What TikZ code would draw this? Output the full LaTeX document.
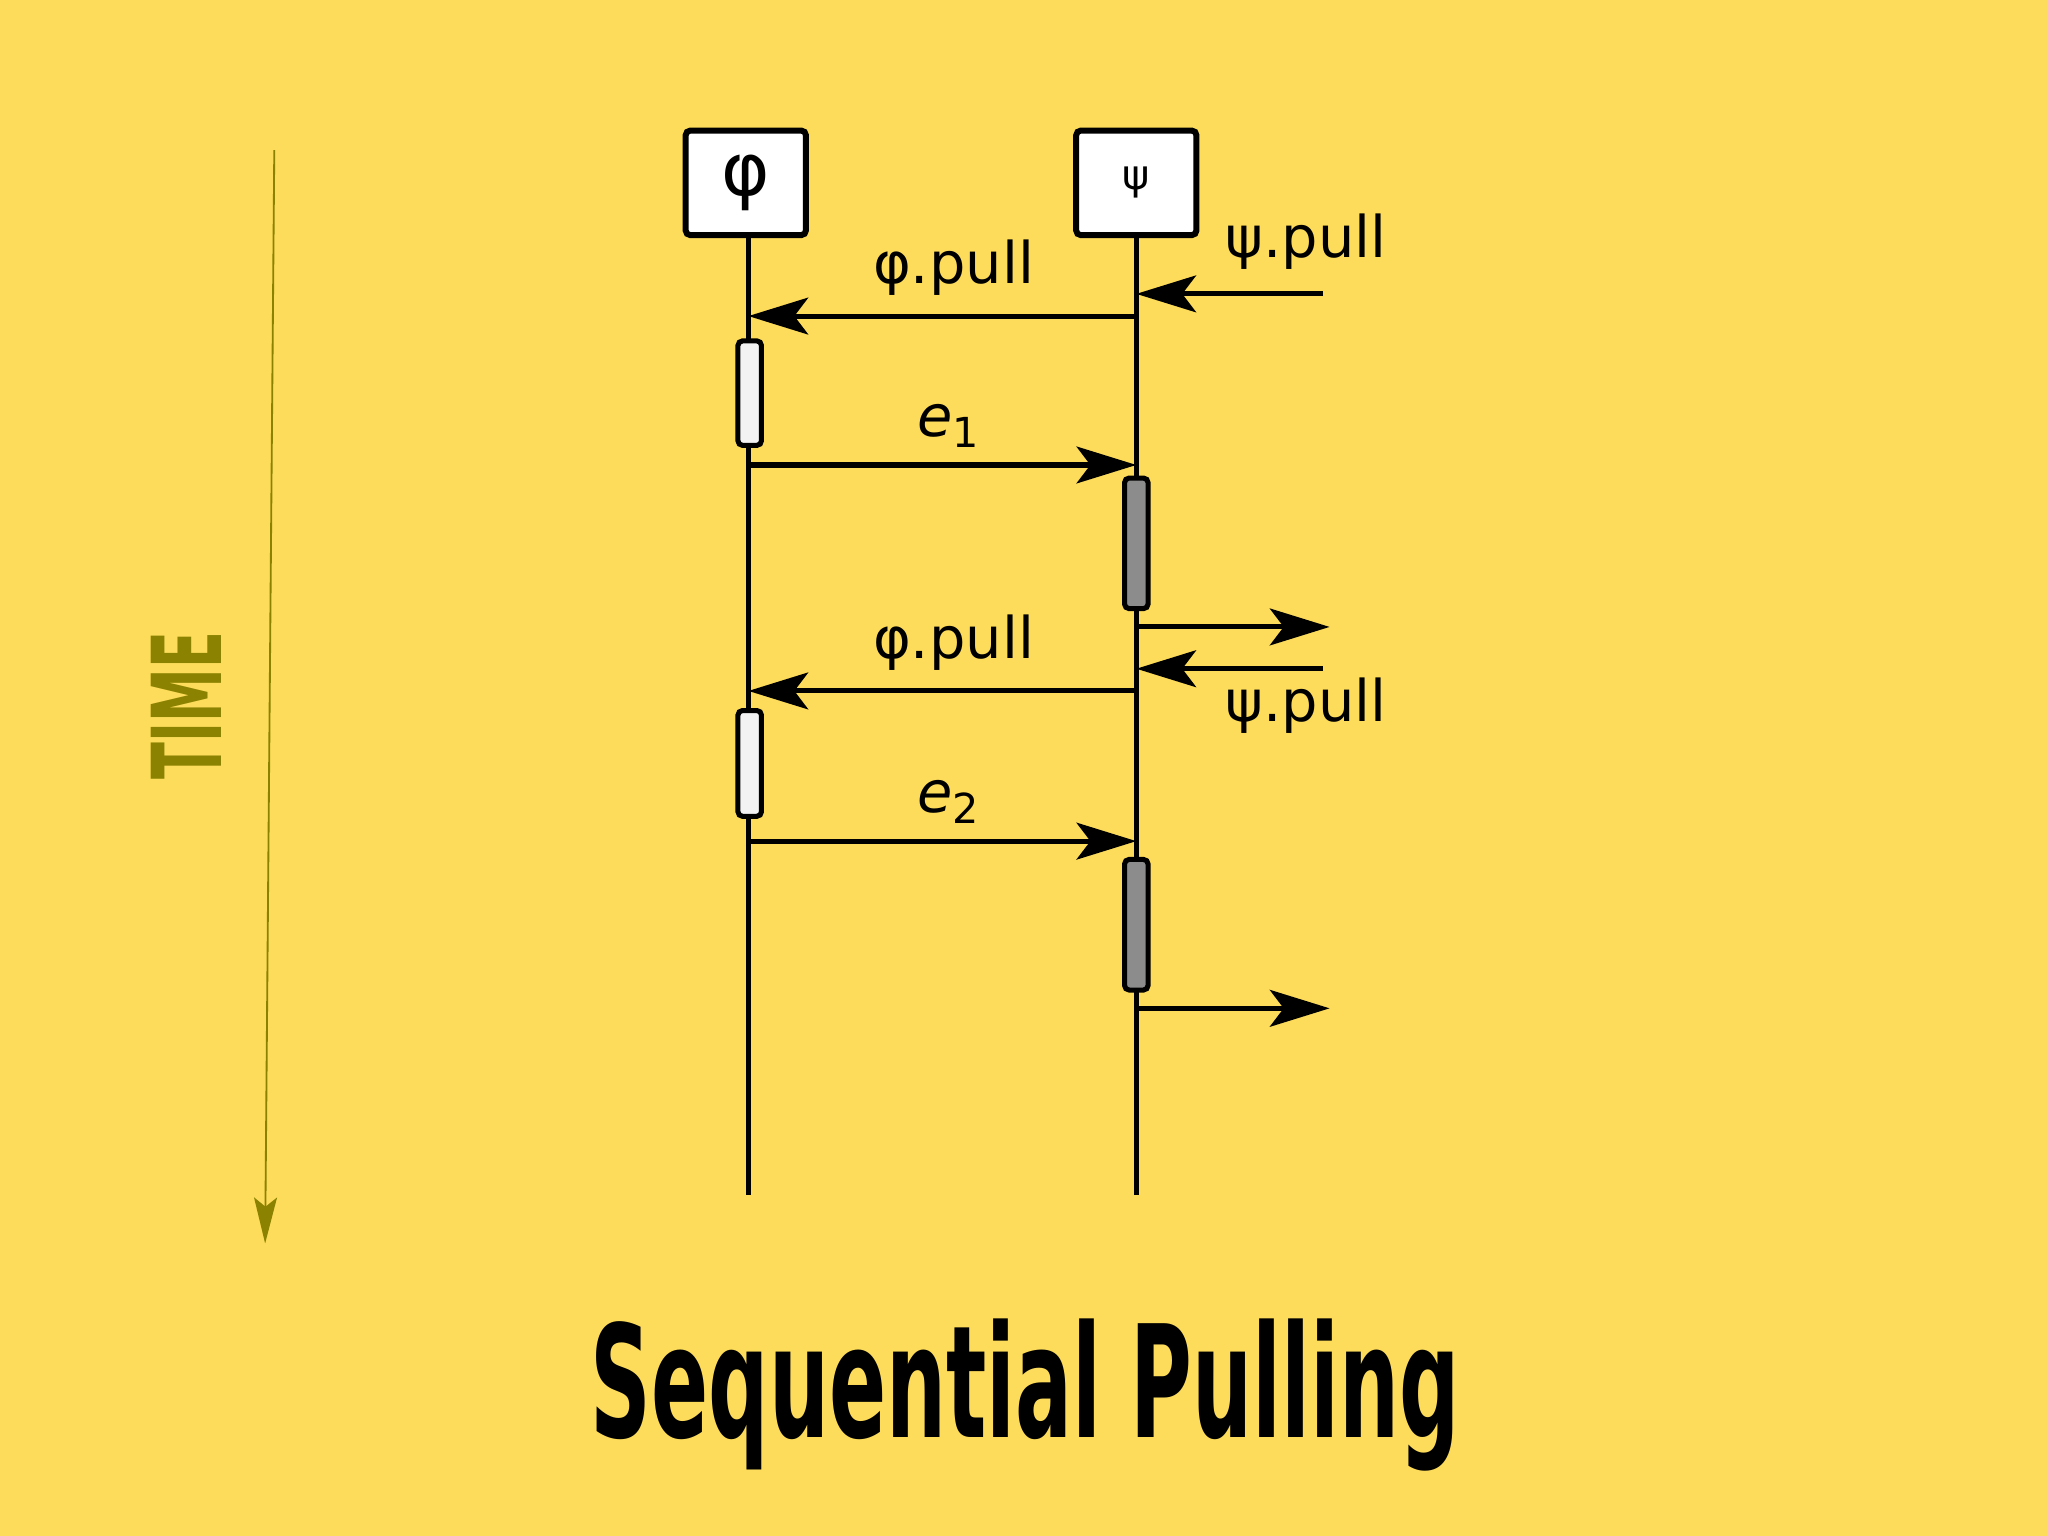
\documentclass[tikz,border=0pt]{standalone}
\usepackage{fontspec}
\setmainfont{DejaVu Sans}
\usetikzlibrary{arrows.meta, positioning}
\definecolor{bgyellow}{HTML}{FDDC5B}
\definecolor{olive}{HTML}{8A8200}
\definecolor{actgrey}{HTML}{8C8C8C}
\begin{document}
\begin{tikzpicture}[x = 0.01cm, y = -0.01cm, > = {Stealth[length = 13pt, width = 8pt, inset = 3pt]},
	msg/.style = {->, line width = 1.1pt},
	lifebox/.style = {draw, line width = 1.3pt, fill = white, rounded corners = 1pt, minimum width = 0.92cm, minimum height = 0.8cm, inner sep = 0pt},
	actwhite/.style = {draw, line width = 1.1pt, fill = white!90!gray, rounded corners = 1pt},
	actgray/.style = {draw, line width = 1.1pt, fill = actgrey, rounded corners = 1pt},
	lbl/.style = {font = \fontsize{12.5}{14}\selectfont}]

	% Background

	\fill [bgyellow] (0, 0) rectangle (1568, 1176);
	\useasboundingbox (0, 0) rectangle (1568, 1176);

	% Time axis

	\coordinate (t0) at (210, 115);
	\coordinate (t1) at (203, 952);
	\draw [->, olive, thin, > = {Stealth[length = 10pt, width = 5pt, inset = 2pt]}] (t0) -- (t1);
	\node (time) [rotate = 90, xscale = 0.56, olive, font = \fontsize{21}{24}\selectfont\bfseries] at (143, 540) {TIME};

	% Lifelines

	\node (phi) [lifebox, font = \fontsize{16}{18}\selectfont] at (571, 140) {φ};
	\node (psi) [lifebox, font = \fontsize{9}{10}\selectfont] at (870, 140) {ψ};
	\coordinate (phiend) at (573, 915);
	\coordinate (psiend) at (870, 915);
	\draw [line width = 1.2pt] (phi.south -| phiend) -- (phiend);
	\draw [line width = 1.2pt] (psi.south -| psiend) -- (psiend);

	% Activations

	\draw [actwhite] (565, 261) rectangle (583, 341);
	\draw [actwhite] (565, 544) rectangle (583, 625);
	\draw [actgray] (861, 366) rectangle (879, 466);
	\draw [actgray] (861, 658) rectangle (879, 758);

	% Messages

	\foreach \y/\pp/\ppy/\e/\out/\n in {242/225/185/356/480/1, 529/512/540/644/772/2}
	{
		\coordinate (psiin\n) at (1013, \pp);
		\draw [msg] (psiin\n) -- (870, \pp);
		\node (psipull\n) [lbl] at (1000, \ppy) {ψ.pull};
		\draw [msg] (870, \y) -- (573, \y);
		\node (phipull\n) [lbl] at (730, \y - 37) {φ.pull};
		\draw [msg] (573, \e) -- (870, \e);
		\node (e\n) [lbl] at (726, \e - 30) {\textit{e}\raisebox{-0.35ex}{\fontsize{9}{10}\selectfont\n}};
		\coordinate (out\n) at (1018, \out);
		\draw [msg] (870, \out) -- (out\n);
	}

	% Title

	\node (title) [xscale = 0.54, font = \fontsize{34}{38}\selectfont\bfseries] at (785, 1068) {Sequential Pulling};

\end{tikzpicture}
\end{document}
